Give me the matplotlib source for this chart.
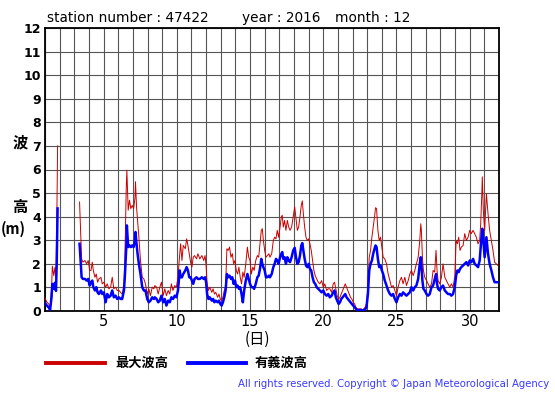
import matplotlib
matplotlib.use("Agg")
import matplotlib.pyplot as plt
from matplotlib.lines import Line2D
import numpy as np

JP = ["Noto Sans CJK JP", "DejaVu Sans"]
RED, BLUE = "#cc0000", "#0000ff"

# day of month (fractional), np.nan marks the missing stretch
day = [
    1.0, 1.1, 1.25, 1.35, 1.45, 1.5, 1.6, 1.68, 1.75, 1.8, 1.86,
    2.5,
    3.36, 3.43, 3.5, 3.59, 3.73, 3.84, 3.95, 4.05, 4.14, 4.23, 4.3, 4.41, 4.5,
    4.59, 4.68, 4.82, 4.91, 5.02, 5.14, 5.25, 5.36, 5.48, 5.59, 5.7, 5.82, 5.93,
    6.05, 6.16, 6.27, 6.39, 6.45, 6.55, 6.59, 6.68, 6.77, 6.86, 6.95, 7.05, 7.14,
    7.18, 7.25, 7.32, 7.41, 7.52, 7.64, 7.75, 7.86, 7.98, 8.09, 8.2, 8.32, 8.43,
    8.5, 8.62, 8.73, 8.84, 8.95, 9.07, 9.18, 9.29, 9.41, 9.52, 9.63, 9.74, 9.86,
    9.97, 10.08, 10.2, 10.26, 10.35, 10.44, 10.58, 10.67, 10.76, 10.85, 10.94,
    11.03, 11.12, 11.21, 11.35, 11.44, 11.57, 11.71, 11.84, 11.93, 12.0, 12.07,
    12.16, 12.25, 12.39, 12.48, 12.57, 12.66, 12.79, 12.88, 12.97, 13.06, 13.15,
    13.24, 13.33, 13.42, 13.51, 13.6, 13.7, 13.79, 13.88, 13.97, 14.06, 14.15,
    14.24, 14.33, 14.42, 14.51, 14.6, 14.71, 14.82, 14.91, 15.0, 15.09, 15.19,
    15.28, 15.39, 15.5, 15.59, 15.68, 15.77, 15.84, 15.91, 16.0, 16.09, 16.18,
    16.29,
    16.36, 16.48, 16.59, 16.68, 16.77, 16.86, 16.95, 17.05, 17.14, 17.2, 17.27,
    17.36, 17.45, 17.55, 17.64, 17.73, 17.84, 17.95, 18.05, 18.14, 18.23, 18.32,
    18.41, 18.5, 18.57, 18.64, 18.73, 18.82, 18.91, 19.0, 19.09, 19.18, 19.27,
    19.36, 19.45, 19.55, 19.66, 19.77, 19.89, 20.0, 20.11, 20.23, 20.34, 20.45,
    20.57, 20.68, 20.77, 20.86, 20.95, 21.05, 21.14, 21.23, 21.32, 21.41, 21.5,
    21.59, 21.68, 21.77, 21.86, 21.95, 22.05, 22.14, 22.23, 22.32, 22.41, 22.5,
    22.59, 22.68, 22.77, 22.86, 22.95, 23.05, 23.14, 23.23, 23.32, 23.41, 23.5,
    23.57, 23.64, 23.73, 23.82, 23.91, 24.0, 24.09,
    24.2, 24.32, 24.43, 24.55, 24.66, 24.77, 24.89, 25.0, 25.11, 25.23, 25.34,
    25.45, 25.57, 25.68, 25.8, 25.91, 26.02, 26.14, 26.25, 26.36, 26.48, 26.59,
    26.66, 26.7, 26.77, 26.84, 26.93, 27.05, 27.16, 27.27, 27.39, 27.5, 27.61,
    27.7, 27.77, 27.84, 27.95, 28.07, 28.18, 28.3, 28.41, 28.52, 28.64, 28.75,
    28.86, 28.98, 29.07, 29.16, 29.25, 29.34, 29.43, 29.55, 29.66, 29.77, 29.89,
    30.0, 30.11, 30.23, 30.34, 30.45, 30.57, 30.68, 30.75, 30.82, 30.86, 30.93,
    31.02, 31.14, 31.25, 31.36, 31.48, 31.59, 31.7, 31.82, 31.93,
]

# 最大波高 (m)
max_wave = [
    0.55, 0.4, 0.3, 0.15, 1.0, 1.9, 1.5, 1.85, 1.4, 3.5, 7.0,
    np.nan,
    4.62, 3.42, 2.21, 2.07, 2.14, 2.0, 2.14, 1.72, 1.72, 2.07, 1.72, 1.43, 1.57,
    1.22, 1.36, 1.43, 1.15, 1.22, 1.01, 1.15, 0.94, 1.01, 1.43, 0.94, 1.01, 0.87,
    0.87, 0.79, 0.72, 1.08, 2.14, 5.26, 5.97, 4.27, 4.7, 4.34, 4.48, 4.34, 4.77,
    5.48, 4.41, 3.84, 3.13, 2.14, 1.43, 1.36, 1.15, 0.72, 0.94, 0.65, 1.01, 0.94,
    1.08, 1.01, 0.72, 1.01, 1.22, 0.65, 0.94, 0.65, 0.87, 0.72, 1.15, 0.87, 1.08,
    1.01, 1.43, 2.43, 2.85, 2.14, 2.78, 2.64, 3.06, 2.78, 2.43, 2.07,
    1.86, 2.28, 2.35, 2.21, 2.43, 2.21, 2.35, 2.14, 2.35, 1.93, 1.15,
    0.87, 1.01, 0.79, 0.94, 0.72, 0.79, 0.58, 0.72, 0.51, 0.44, 0.58,
    0.87, 1.01, 2.64, 2.57, 2.71, 2.28, 2.43, 2.0, 2.14, 1.72, 1.57,
    1.86, 1.43, 1.15, 1.65, 1.43, 2.0, 2.71, 2.28, 2.14, 1.57, 1.86,
    1.72, 2.14, 2.35, 2.28, 2.85, 3.42, 3.49, 2.99, 2.57, 2.28, 2.35,
    2.43,
    2.28, 2.43, 2.99, 3.13, 3.06, 3.42, 3.13, 3.56, 3.99, 4.06, 3.56,
    3.84, 3.42, 3.84, 3.56, 3.42, 3.56, 3.99, 4.41, 3.91, 3.42, 3.56,
    3.99, 4.48, 4.67, 4.13, 3.56, 3.13, 2.99, 3.06, 2.85, 2.57, 2.14,
    1.72, 1.5, 1.36, 1.22, 1.15, 1.29, 1.01, 1.15, 0.87, 0.94, 0.94,
    0.79, 1.15, 1.22, 0.94, 0.65, 0.51, 0.58, 0.72, 0.87, 1.01, 1.15,
    1.01, 0.87, 0.72, 0.58, 0.51, 0.37, 0.3, 0.16, 0.09, 0.09, 0.09,
    0.09, 0.06, 0.09, 0.16, 0.3, 1.01, 2.28, 2.57, 3.13, 3.56, 3.99,
    4.38, 4.34, 3.42, 2.99, 3.13, 2.71, 2.28,
    2.21, 2.0, 1.57, 1.29, 1.01, 1.08, 0.87, 0.65, 1.01, 1.29, 1.43,
    1.15, 1.43, 1.08, 1.29, 1.57, 1.72, 1.5, 1.72, 2.0, 2.28, 2.99,
    3.7, 3.42, 2.28, 1.72, 1.43, 1.29, 1.15, 1.01, 1.15, 1.72, 1.65,
    2.57, 1.72, 1.29, 1.15, 1.43, 2.0, 1.43, 1.29, 1.15, 1.01, 1.15,
    1.01, 1.43, 2.99, 2.85, 3.13, 2.57, 2.71, 2.78, 3.28, 2.99, 3.13,
    3.42, 3.28, 3.42, 3.28, 3.13, 2.85, 2.99, 3.7, 4.84, 5.69, 4.27,
    3.42, 4.98, 4.13, 3.42, 2.99, 2.57, 2.07, 2.0, 1.93,
]

# 有義波高 (m)
sig_wave = [
    0.35, 0.25, 0.15, 0.05, 0.6, 1.15, 0.95, 1.2, 0.85, 2.0, 4.35,
    np.nan,
    2.85, 2.14, 1.43, 1.36, 1.36, 1.29, 1.36, 1.08, 1.22, 1.29, 1.01, 0.87, 1.01,
    0.79, 0.72, 0.87, 0.72, 0.79, 0.37, 0.72, 0.58, 0.65, 0.87, 0.58, 0.65, 0.51,
    0.58, 0.51, 0.51, 0.87, 1.43, 2.71, 3.63, 2.71, 2.78, 2.71, 2.78, 2.71, 2.99,
    3.35, 2.85, 2.43, 2.0, 1.57, 1.01, 0.87, 0.87, 0.51, 0.37, 0.44, 0.58, 0.51,
    0.58, 0.51, 0.37, 0.44, 0.65, 0.37, 0.51, 0.23, 0.44, 0.37, 0.58, 0.51, 0.65,
    0.58, 0.87, 1.72, 1.43, 1.43, 1.57, 1.72, 1.86, 1.72, 1.43, 1.43,
    1.29, 1.15, 1.36, 1.43, 1.36, 1.36, 1.43, 1.36, 1.43, 1.22, 0.72,
    0.51, 0.58, 0.44, 0.51, 0.37, 0.44, 0.37, 0.44, 0.3, 0.23, 0.37,
    0.58, 0.87, 1.57, 1.43, 1.5, 1.36, 1.43, 1.15, 1.29, 1.01, 1.08,
    0.94, 1.01, 0.72, 0.37, 0.87, 1.29, 1.57, 1.36, 1.15, 1.01, 1.01,
    0.94, 1.15, 1.43, 1.5, 1.79, 2.21, 2.0, 1.86, 1.72, 1.43, 1.43,
    1.5,
    1.43, 1.57, 1.86, 2.0, 2.21, 2.14, 2.0, 2.28, 2.43, 2.5, 2.21,
    2.28, 2.0, 2.28, 2.14, 2.07, 2.28, 2.57, 2.68, 2.28, 2.0, 2.07,
    2.35, 2.78, 2.88, 2.57, 2.21, 1.93, 1.86, 2.0, 1.79, 1.72, 1.43,
    1.22, 1.15, 1.01, 0.94, 0.87, 0.79, 0.87, 0.72, 0.65, 0.72, 0.58,
    0.65, 0.79, 0.87, 0.58, 0.44, 0.3, 0.37, 0.51, 0.58, 0.65, 0.72,
    0.58, 0.51, 0.44, 0.37, 0.3, 0.23, 0.16, 0.09, 0.04, 0.04, 0.04,
    0.04, 0.01, 0.04, 0.07, 0.16, 0.72, 1.72, 2.0, 2.14, 2.43, 2.64,
    2.78, 2.71, 2.21, 1.86, 1.93, 1.72, 1.57,
    1.29, 1.08, 0.87, 0.72, 0.65, 0.72, 0.51, 0.37, 0.58, 0.72, 0.65,
    0.79, 0.72, 0.65, 0.72, 0.79, 1.01, 0.87, 1.01, 1.08, 1.36, 2.0,
    2.28, 2.0, 1.29, 0.94, 0.87, 0.72, 0.65, 0.72, 1.01, 1.08, 1.36,
    1.57, 1.15, 0.94, 0.87, 1.01, 1.08, 0.87, 0.79, 0.72, 0.72, 0.65,
    0.72, 1.01, 1.5, 1.72, 1.65, 1.79, 1.86, 1.93, 2.0, 2.07, 1.93,
    2.14, 2.07, 2.21, 2.0, 1.93, 1.86, 2.14, 2.71, 3.28, 3.49, 2.99,
    2.28, 3.13, 2.43, 2.0, 1.72, 1.43, 1.22, 1.22, 1.22,
]

x_ticks = [5, 10, 15, 20, 25, 30]
y_ticks = list(range(0, 13))

fig = plt.figure(figsize=(5.55, 3.95), dpi=100)
ax = fig.add_axes([45 / 555, 1 - 311 / 395, 454 / 555, 283 / 395])

ax.plot(day, max_wave, color=RED, lw=0.7, zorder=3)
ax.plot(day, sig_wave, color=BLUE, lw=1.8, zorder=4)

ax.set_xlim(1, 32)
ax.set_ylim(0, 12)
ax.set_xticks(range(1, 33), minor=True)
ax.set_xticks(x_ticks)
ax.set_yticks(y_ticks)
ax.grid(True, which="both", axis="x", color="#555555", lw=0.8, zorder=1)
ax.grid(True, axis="y", color="#555555", lw=0.8, zorder=1)
ax.tick_params(which="both", length=0)
ax.tick_params(axis="x", labelsize=10.5, pad=2)
ax.tick_params(axis="y", labelsize=9, pad=3)
for lab in ax.get_yticklabels():
    lab.set_fontweight("bold")
for s in ax.spines.values():
    s.set_linewidth(1.3)

# header
fig.text(47 / 555, 1 - 22 / 395, "station number : 47422", fontsize=9.8)
fig.text(242 / 555, 1 - 22 / 395, "year : 2016", fontsize=9.8)
fig.text(335 / 555, 1 - 22 / 395, "month : 12", fontsize=9.8)

# y label pieces
fig.text(20 / 555, 1 - 142 / 395, "波", family=JP, fontsize=11, fontweight="bold",
         ha="center", va="center")
fig.text(20 / 555, 1 - 207 / 395, "高", family=JP, fontsize=11, fontweight="bold",
         ha="center", va="center")
fig.text(13 / 555, 1 - 229 / 395, "(m)", family=JP, fontsize=10.5, fontweight="bold",
         ha="center", va="center")
fig.text(257 / 555, 1 - 339 / 395, "(日)", family=JP, fontsize=11, ha="center", va="center")

# legend
y_leg = 1 - 363 / 395
fig.add_artist(Line2D([46 / 555, 105 / 555], [y_leg, y_leg], color=RED, lw=2.8))
fig.text(115 / 555, y_leg, "最大波高", family=JP, fontsize=9.5, fontweight="bold", va="center")
fig.add_artist(Line2D([188 / 555, 246 / 555], [y_leg, y_leg], color=BLUE, lw=2.8))
fig.text(255 / 555, y_leg, "有義波高", family=JP, fontsize=9.5, fontweight="bold", va="center")

fig.text(549 / 555, 1 - 384 / 395,
         "All rights reserved. Copyright \u00a9 Japan Meteorological Agency",
         color="#3a3aff", fontsize=7.3, ha="right", va="center")

fig.savefig("out.png", dpi=100)
